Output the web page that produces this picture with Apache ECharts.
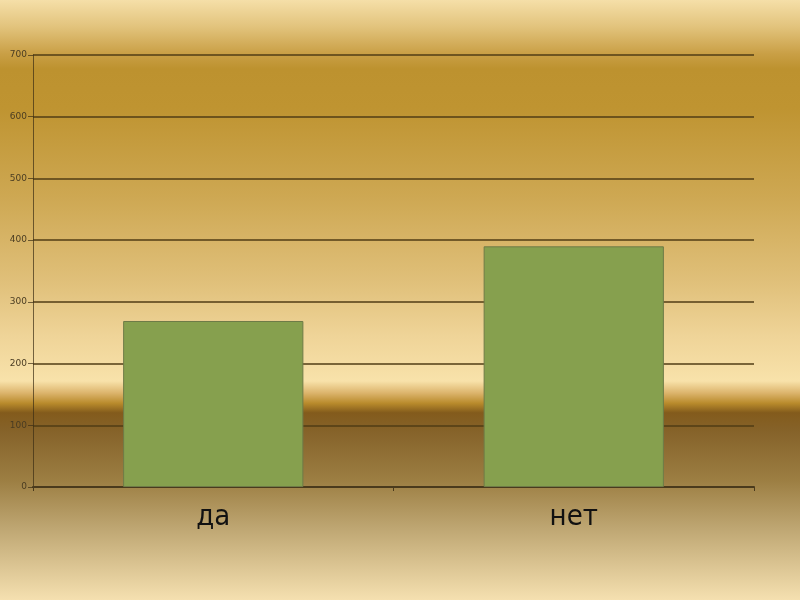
<!DOCTYPE html>
<html><head><meta charset="utf-8">
<script src="https://cdn.jsdelivr.net/npm/echarts@6/dist/echarts.min.js"></script>
<style>html,body{margin:0;padding:0;}#c{width:800px;height:600px;}</style>
</head><body><div id="c"></div>
<script>
const categories = ['да', 'нет'];
const values = [269, 390];
const yTicks = [0, 100, 200, 300, 400, 500, 600, 700];

const chart = echarts.init(document.getElementById('c'));
chart.setOption({
  backgroundColor: {
    type: 'linear', x: 0, y: 0, x2: 0, y2: 1,
    colorStops: [
      {offset: 0, color: '#f5dfa8'},
      {offset: 0.045, color: '#e2c37c'},
      {offset: 0.09, color: '#c99f45'},
      {offset: 0.115, color: '#bd922f'},
      {offset: 0.18, color: '#bf9431'},
      {offset: 0.33, color: '#cea853'},
      {offset: 0.47, color: '#e0c07a'},
      {offset: 0.56, color: '#efd498'},
      {offset: 0.635, color: '#f8e2aa'},
      {offset: 0.655, color: '#dcb46c'},
      {offset: 0.672, color: '#b98b2c'},
      {offset: 0.688, color: '#835b1c'},
      {offset: 0.72, color: '#86632a'},
      {offset: 0.80, color: '#9c7e42'},
      {offset: 0.88, color: '#bea672'},
      {offset: 1, color: '#f5e0b0'}
    ]
  },
  grid: {left: 33, right: 46, top: 55, bottom: 113, containLabel: false},
  xAxis: {
    type: 'category', data: categories,
    axisLine: {show: true, lineStyle: {color: '#4a3a1c', width: 2}},
    axisTick: {show: true, length: 4, lineStyle: {color: '#4a3a1c'}},
    axisLabel: {color: '#111', fontSize: 29, fontFamily: 'DejaVu Sans Condensed, DejaVu Sans', margin: 16}
  },
  yAxis: {
    type: 'value', min: 0, max: 700, interval: 100,
    axisLine: {show: true, lineStyle: {color: 'rgba(60,45,20,0.7)', width: 1}},
    axisTick: {show: true, length: 5, lineStyle: {color: 'rgba(60,45,20,0.7)'}},
    axisLabel: {color: '#4a3c22', fontSize: 9, fontFamily: 'DejaVu Sans', margin: 6,
      formatter: v => yTicks.includes(v) ? String(v) : ''},
    splitLine: {show: true, lineStyle: {color: 'rgba(80,60,20,0.75)', width: 2}}
  },
  series: [{
    type: 'bar', data: values, barWidth: '50%',
    itemStyle: {color: '#86a04e', borderColor: '#6e7b47', borderWidth: 1}
  }]
});
</script></body></html>
